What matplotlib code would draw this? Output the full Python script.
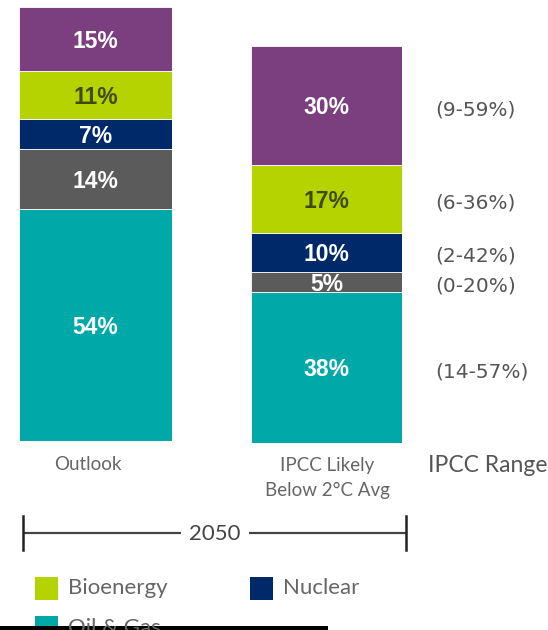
import matplotlib.pyplot as plt
from matplotlib.patches import Rectangle

# Data (bottom to top)
sources = ['Oil & Gas', 'Coal', 'Nuclear', 'Bioenergy', 'Non-Bio Renewables']
outlook = [54, 14, 7, 11, 15]
ipcc = [38, 5, 10, 17, 30]
ipcc_range = ['(14-57%)', '(0-20%)', '(2-42%)', '(6-36%)', '(9-59%)']
legend_items = ['Bioenergy', 'Nuclear', 'Oil & Gas']

colors = {
    'Oil & Gas': '#00a9a8',
    'Coal': '#5b5b5b',
    'Nuclear': '#00296a',
    'Bioenergy': '#b5d300',
    'Non-Bio Renewables': '#7b3f7f',
}
label_colors = {'Bioenergy': '#3f4a08'}

W, H = 548, 630
fig = plt.figure(figsize=(W / 100, H / 100), dpi=100)


def rect(x0, y0, x1, y1):
    return [x0 / W, 1 - y1 / H, (x1 - x0) / W, (y1 - y0) / H]


def stacked(ax, values):
    bottom = 0
    for name, v in zip(sources, values):
        ax.bar(0, v, width=1, bottom=bottom, color=colors[name],
               edgecolor='white', linewidth=0.6)
        ax.text(0, bottom + v / 2 - 0.6, f'{v}%', ha='center', va='center',
                fontsize=16.5, fontweight='bold', family='Liberation Sans',
                color=label_colors.get(name, 'white'))
        bottom += v
    ax.set_xlim(-0.5, 0.5)
    ax.set_ylim(0, bottom)
    ax.axis('off')


ax1 = fig.add_axes(rect(19, 7, 172, 441))
stacked(ax1, outlook)
ax2 = fig.add_axes(rect(251, 46, 402, 443))
stacked(ax2, ipcc)

# IPCC ranges next to the second bar
bottom = 0
for v, r in zip(ipcc, ipcc_range):
    ax2.annotate(r, xy=(1, bottom + v / 2), xycoords=('axes fraction', 'data'),
                 xytext=(33, -4), textcoords='offset pixels', ha='left',
                 va='center', fontsize=14.5, family='DejaVu Sans', color='#555555')
    bottom += v

# overlay in pixel coords for labels, bracket and legend
ov = fig.add_axes([0, 0, 1, 1])
ov.set_xlim(0, W)
ov.set_ylim(H, 0)
ov.axis('off')

txt = dict(family='Lato', color='#666666', va='center')
ov.text(88, 465, 'Outlook', ha='center', fontsize=13.5, **txt)
ov.text(327, 466, 'IPCC Likely', ha='center', fontsize=13.5, **txt)
ov.text(327, 490, 'Below 2°C Avg', ha='center', fontsize=13.5, **txt)
ov.text(428, 465, 'IPCC Range', ha='left', fontsize=16.5, family='Lato',
        color='#555555', va='center')

# 2050 bracket
ov.plot([23, 406], [533, 533], color='#444444', lw=1.6, solid_capstyle='butt')
for x in (23, 406):
    ov.plot([x, x], [516, 550], color='#222222', lw=1.8)
ov.text(215, 534, '2050', ha='center', va='center', fontsize=16, family='Lato',
        color='#444444', bbox=dict(facecolor='white', edgecolor='none', pad=6))

# legend (cropped in the original)
legend_pos = [(35, 577), (250, 577), (35, 616)]
for name, (x, y) in zip(legend_items, legend_pos):
    ov.add_patch(Rectangle((x, y), 23, 23, facecolor=colors[name],
                           edgecolor='none', clip_on=False))
    ov.text(x + 33, y + 11.5, name, ha='left', fontsize=16, **txt)

ov.add_patch(Rectangle((0, 626), 328, 5, facecolor='black', edgecolor='none'))

fig.savefig('out.png', dpi=100)
